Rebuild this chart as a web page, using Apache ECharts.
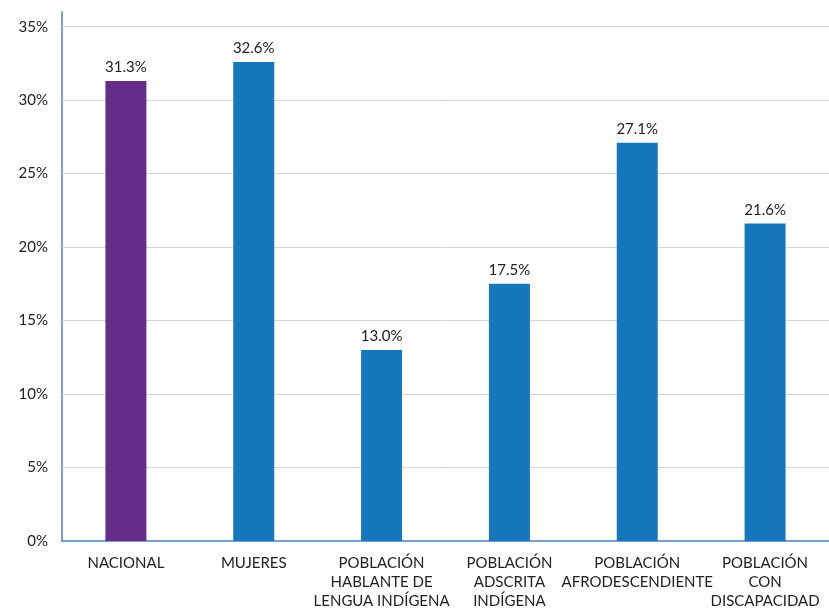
<!DOCTYPE html>
<html>
<head>
<meta charset="utf-8">
<style>
  html, body { margin: 0; padding: 0; background: #ffffff; }
  #chart { width: 829px; height: 611px; }
</style>
<script src="https://cdn.jsdelivr.net/npm/echarts@6/dist/echarts.min.js"></script>
</head>
<body>
<div id="chart"></div>
<script>
// Categories (group labels) and percentage values per group
const categories = [
  'NACIONAL',
  'MUJERES',
  'POBLACIÓN\nHABLANTE DE\nLENGUA INDÍGENA',
  'POBLACIÓN\nADSCRITA\nINDÍGENA',
  'POBLACIÓN\nAFRODESCENDIENTE',
  'POBLACIÓN\nCON\nDISCAPACIDAD'
];
const values = [31.3, 32.6, 13.0, 17.5, 27.1, 21.6];
const yTicks = [0, 5, 10, 15, 20, 25, 30, 35];
// the vertical axis line runs a little past the last tick
const yAxisTop = 36;

const PURPLE = '#652d89';
const BLUE = '#1777bc';
const FONT = 'Lato, "Open Sans", sans-serif';

const chart = echarts.init(document.getElementById('chart'), null, { renderer: 'canvas' });

chart.setOption({
  animation: false,
  backgroundColor: '#ffffff',
  grid: { left: 62, right: 0, top: 12, bottom: 70, containLabel: false },
  xAxis: {
    type: 'category',
    data: categories,
    axisLine: { show: true, lineStyle: { color: '#4a7fc8', width: 1.5 } },
    axisTick: { show: false },
    axisLabel: {
      interval: 0,
      margin: 13,
      color: '#222222',
      fontFamily: FONT,
      fontSize: 15,
      lineHeight: 19
    }
  },
  yAxis: {
    type: 'value',
    min: yTicks[0],
    max: yAxisTop,
    interval: 5,
    axisLine: { show: true, lineStyle: { color: '#4a7fc8', width: 1.5 } },
    axisTick: { show: false },
    splitLine: { show: false },
    axisLabel: {
      margin: 14,
      showMaxLabel: false,
      color: '#222222',
      fontFamily: FONT,
      fontSize: 15,
      formatter: v => (yTicks.indexOf(v) >= 0 ? v + '%' : '')
    }
  },
  series: [{
    type: 'bar',
    barWidth: 41,
    z: 3,
    data: values.map((v, i) => ({
      value: v,
      itemStyle: { color: i === 0 ? PURPLE : BLUE }
    })),
    label: {
      show: true,
      position: 'top',
      distance: 6,
      color: '#222222',
      fontFamily: FONT,
      fontSize: 15,
      formatter: p => p.value.toFixed(1) + '%'
    },
    // horizontal gridlines at each labelled tick
    markLine: {
      silent: true,
      symbol: ['none', 'none'],
      label: { show: false },
      z: 1,
      lineStyle: { color: '#d6d6d6', width: 1, type: 'solid' },
      data: yTicks.slice(1).map(t => ({ yAxis: t }))
    }
  }]
});
</script>
</body>
</html>
